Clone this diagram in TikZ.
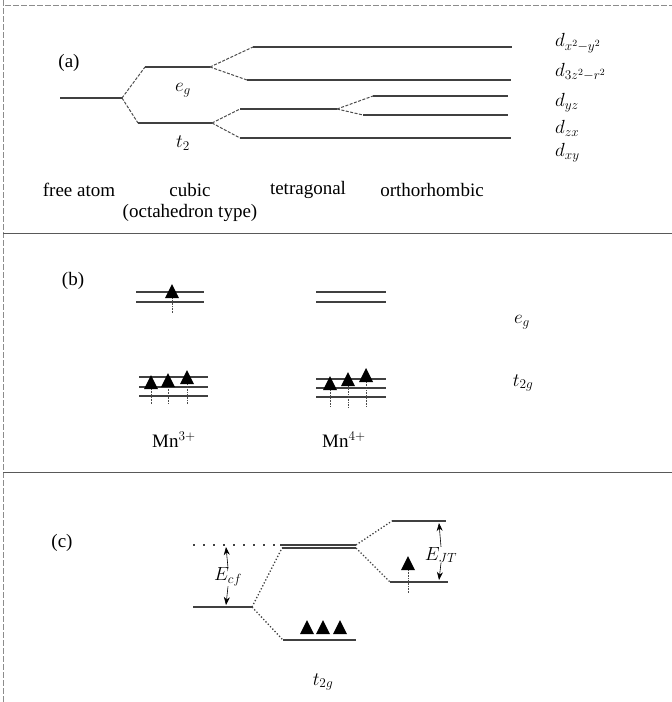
\RequirePackage{fix-cm}
\documentclass[tikz,border=0pt]{standalone}
\usepackage{fontspec}
\setmainfont{Liberation Serif}
\usetikzlibrary{arrows.meta}
\begin{document}
\begin{tikzpicture}[x=1pt,y=-1pt,
  lvl/.style={line width=1.3pt, draw=black!75},
  thicklvl/.style={line width=2.2pt, draw=black!75},
  conn/.style={line width=1pt, draw=black!70, dash pattern=on 3pt off 1.5pt},
  dotc/.style={line width=1.3pt, draw=black!75, dotted},
  sparse/.style={line width=1.3pt, draw=black!75, dash pattern=on 2pt off 8pt},
  lab/.style={font=\fontsize{19}{22}\selectfont, inner sep=0pt},
  stem/.style={line width=0.6pt, draw=black!70, densely dotted},
  frame/.style={line width=0.8pt, draw=black!65},
  faint/.style={line width=0.6pt, draw=black!45, dash pattern=on 6pt off 2pt},
  spinup/.pic={\fill[black] (-7,0) -- (7,0) -- (0,-14) -- cycle;},
  >={Stealth[length=8pt,width=6pt]}]
\useasboundingbox (0,0) rectangle (672,702);

% frame
\coordinate (fTL) at (3,0);
\coordinate (fBL) at (3,702);
\coordinate (tL) at (5,5);
\coordinate (tR) at (672,5);
\coordinate (s1L) at (3,233);
\coordinate (s1R) at (672,233);
\coordinate (s2L) at (3,472);
\coordinate (s2R) at (672,472);
\draw[faint] (fTL) -- (fBL);
\draw[faint] (tL) -- (tR);
\draw[frame] (s1L) -- (s1R);
\draw[frame] (s2L) -- (s2R);

% ================= (a)
\node[lab] (pa) at (69,63) {(a)};
\coordinate (faL) at (60,98);
\coordinate (fa) at (122,98);
\draw[thicklvl] (faL) -- (fa);
\coordinate (egL) at (145,67);
\coordinate (egR) at (210,67);
\coordinate (tL2) at (138,123);
\coordinate (tR2) at (212,123);
\draw[lvl] (egL) -- (egR);
\draw[lvl] (tL2) -- (tR2);
\draw[conn] (fa) -- (egL);
\draw[conn] (fa) -- (tL2);
\node[lab] (lbleg) at (183,90) {$e_g$};
\node[lab] (lblt2) at (183,143) {$t_2$};

\coordinate (a1L) at (253,47);  \coordinate (a1R) at (512,47);
\coordinate (a2L) at (247,80);  \coordinate (a2R) at (511,80);
\coordinate (tgL) at (240,109); \coordinate (tgR) at (337,109);
\coordinate (a5L) at (240,138); \coordinate (a5R) at (511,138);
\coordinate (a3L) at (373,96);  \coordinate (a3R) at (508,96);
\coordinate (a4L) at (363,115); \coordinate (a4R) at (508,115);
\draw[conn] (egR) -- (a1L);
\draw[conn] (egR) -- (a2L);
\draw[conn] (tR2) -- (tgL);
\draw[conn] (tR2) -- (a5L);
\draw[conn] (tgR) -- (a3L);
\draw[conn] (tgR) -- (a4L);
\draw[lvl] (a1L) -- (a1R);
\draw[lvl] (a2L) -- (a2R);
\draw[thicklvl] (tgL) -- (tgR);
\draw[lvl] (a5L) -- (a5R);
\draw[lvl] (a3L) -- (a3R);
\draw[lvl] (a4L) -- (a4R);

\node[lab, anchor=west] (dx2) at (555,43) {$d_{x^2-y^2}$};
\node[lab, anchor=west] (dz2) at (555,72) {$d_{3z^2-r^2}$};
\node[lab, anchor=west] (dyz) at (555,103) {$d_{yz}$};
\node[lab, anchor=west] (dzx) at (555,128) {$d_{zx}$};
\node[lab, anchor=west] (dxy) at (555,153) {$d_{xy}$};

\node[lab] (tfree) at (79,190) {free atom};
\node[lab] (tcub) at (190,190) {cubic};
\node[lab] (toct) at (190,213) {(octahedron type)};
\node[lab] (ttet) at (308,190) {tetragonal};
\node[lab] (tort) at (432,190) {orthorhombic};

% ================= (b)
\node[lab] (pb) at (73,281) {(b)};
% Mn3+ eg
\coordinate (b1a) at (136,292); \coordinate (b1b) at (204,292);
\coordinate (b2a) at (136,302); \coordinate (b2b) at (204,302);
\draw[lvl] (b1a) -- (b1b);
\draw[lvl] (b2a) -- (b2b);
\coordinate (s0t) at (172,298); \coordinate (s0b) at (172,313);
\draw[stem] (s0t) -- (s0b);
\pic at (s0t) {spinup};
% Mn4+ eg
\coordinate (c1a) at (316,292); \coordinate (c1b) at (386,292);
\coordinate (c2a) at (316,302); \coordinate (c2b) at (386,302);
\draw[lvl] (c1a) -- (c1b);
\draw[lvl] (c2a) -- (c2b);
% Mn3+ t2g
\coordinate (b3a) at (139,377); \coordinate (b3b) at (208,377);
\coordinate (b4a) at (139,387); \coordinate (b4b) at (208,387);
\coordinate (b5a) at (139,396); \coordinate (b5b) at (208,396);
\draw[lvl] (b3a) -- (b3b);
\draw[lvl] (b4a) -- (b4b);
\draw[lvl] (b5a) -- (b5b);
\coordinate (s1t) at (151,389); \coordinate (s1b) at (151,404);
\coordinate (s2t) at (168,387); \coordinate (s2b) at (168,404);
\coordinate (s3t) at (187,384); \coordinate (s3b) at (187,404);
\draw[stem] (s1t) -- (s1b);
\draw[stem] (s2t) -- (s2b);
\draw[stem] (s3t) -- (s3b);
\pic at (s1t) {spinup};
\pic at (s2t) {spinup};
\pic at (s3t) {spinup};
% Mn4+ t2g
\coordinate (c3a) at (316,379); \coordinate (c3b) at (386,379);
\coordinate (c4a) at (316,388); \coordinate (c4b) at (386,388);
\coordinate (c5a) at (316,397); \coordinate (c5b) at (386,397);
\draw[lvl] (c3a) -- (c3b);
\draw[lvl] (c4a) -- (c4b);
\draw[lvl] (c5a) -- (c5b);
\coordinate (u1t) at (330,390); \coordinate (u1b) at (330,407);
\coordinate (u2t) at (348,386); \coordinate (u2b) at (348,407);
\coordinate (u3t) at (366,382); \coordinate (u3b) at (366,407);
\draw[stem] (u1t) -- (u1b);
\draw[stem] (u2t) -- (u2b);
\draw[stem] (u3t) -- (u3b);
\pic at (u1t) {spinup};
\pic at (u2t) {spinup};
\pic at (u3t) {spinup};

\node[lab] (mn3) at (174,440) {Mn$^{3+}$};
\node[lab] (mn4) at (344,440) {Mn$^{4+}$};
\node[lab] (beg) at (522,322) {$e_g$};
\node[lab] (bt2g) at (523,383) {$t_{2g}$};

% ================= (c)
\node[lab] (pc) at (62,543) {(c)};
\coordinate (d0a) at (193,545); \coordinate (d0b) at (279,545);
\draw[sparse] (d0a) -- (d0b);
\coordinate (m1a) at (280,545); \coordinate (m1b) at (356,545);
\coordinate (m2a) at (282,548); \coordinate (m2b) at (356,548);
\draw[lvl] (m1a) -- (m1b);
\draw[lvl] (m2a) -- (m2b);
\coordinate (lla) at (193,607); \coordinate (llb) at (252,607);
\draw[lvl] (lla) -- (llb);
\coordinate (tta) at (283,640); \coordinate (ttb) at (356,640);
\draw[thicklvl] (tta) -- (ttb);
\draw[dotc] (llb) -- (m2a);
\draw[dotc] (llb) -- (tta);
\coordinate (ua) at (392,521); \coordinate (ub) at (446,521);
\coordinate (la) at (390,582); \coordinate (lb) at (448,582);
\draw[dotc] (m1b) -- (ua);
\draw[dotc] (m2b) -- (la);
\draw[lvl] (ua) -- (ub);
\draw[lvl] (la) -- (lb);
\pic at (307,634) {spinup};
\pic at (323,634) {spinup};
\pic at (340,634) {spinup};
\coordinate (e1t) at (408,570); \coordinate (e1b) at (408,593);
\draw[stem] (e1t) -- (e1b);
\pic at (e1t) {spinup};

\node[lab] (ejt) at (441,555) {$E_{JT}$};
\coordinate (ejtop) at (439,523);
\coordinate (ejbot) at (439,580);
\draw[->, line width=0.6pt] (ejt.north) -- (ejtop);
\draw[->, line width=0.6pt] (ejt.south) -- (ejbot);

\node[lab] (ecf) at (228,577) {$E_{cf}$};
\coordinate (ectop) at (226,547);
\coordinate (ecbot) at (226,605);
\draw[->, line width=0.6pt] (ecf.north) -- (ectop);
\draw[->, line width=0.6pt] (ecf.south) -- (ecbot);

\node[lab] (ct2g) at (323,682) {$t_{2g}$};
\end{tikzpicture}
\end{document}
